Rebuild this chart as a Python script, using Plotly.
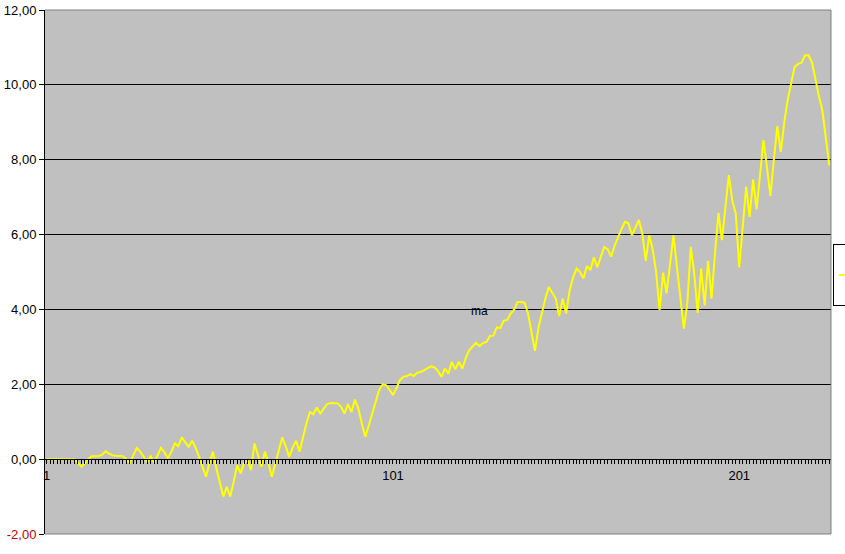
import plotly.graph_objects as go

# valores (227 periodos)
valores = [
    0, 0, 0, 0, 0, 0, 0, 0, 0, -0.1,
    -0.2, -0.12, 0.0, 0.08, 0.08, 0.08, 0.12, 0.21, 0.15, 0.1,
    0.09, 0.09, 0.08, 0.0, -0.1, 0.1, 0.3, 0.2, 0.08, -0.07,
    0.08, -0.09, 0.1, 0.3, 0.18, 0.02, 0.2, 0.42, 0.35, 0.58,
    0.45, 0.33, 0.49, 0.3, 0.06, -0.2, -0.47, -0.1, 0.2, -0.25,
    -0.65, -1.0, -0.74, -1.0, -0.6, -0.16, -0.38, -0.1, -0.03, -0.29,
    0.42, 0.1, -0.2, 0.2, -0.1, -0.47, -0.1, 0.25, 0.58, 0.35,
    0.06, 0.3, 0.49, 0.2, 0.6, 0.95, 1.26, 1.2, 1.38, 1.22,
    1.35, 1.47, 1.5, 1.5, 1.49, 1.4, 1.22, 1.47, 1.26, 1.59,
    1.35, 0.95, 0.6, 0.9, 1.22, 1.6, 1.85, 2.0, 1.98, 1.85,
    1.71, 1.9, 2.11, 2.2, 2.22, 2.27, 2.22, 2.31, 2.33, 2.38,
    2.42, 2.48, 2.45, 2.35, 2.2, 2.42, 2.28, 2.6, 2.4, 2.6,
    2.42, 2.7, 2.91, 3.0, 3.11, 3.02, 3.1, 3.13, 3.29, 3.3,
    3.52, 3.5, 3.7, 3.72, 3.89, 4.0, 4.2, 4.2, 4.18, 3.89,
    3.4, 2.89, 3.5, 3.9, 4.29, 4.6, 4.45, 4.29, 3.82, 4.29,
    3.89, 4.5, 4.85, 5.09, 5.0, 4.83, 5.16, 5.05, 5.39, 5.13,
    5.4, 5.67, 5.61, 5.41, 5.7, 5.94, 6.15, 6.34, 6.30, 5.98,
    6.2, 6.39, 6.03, 5.30, 5.98, 5.6, 5.0, 3.98, 4.98, 4.43,
    5.2, 5.98, 5.14, 4.3, 3.49, 4.16, 5.67, 4.96, 3.91, 5.09,
    4.11, 5.30, 4.29, 5.5, 6.58, 5.85, 6.8, 7.59, 6.9, 6.56,
    5.12, 6.2, 7.28, 6.47, 7.47, 6.67, 7.6, 8.52, 7.8, 7.03,
    8.0, 8.90, 8.21, 9.0, 9.6, 10.02, 10.48, 10.56, 10.59, 10.79,
    10.79, 10.6, 10.13, 9.7, 9.32, 8.5, 7.85,
]
periodos = list(range(1, len(valores) + 1))

x_ticks = [1, 101, 201]
y_ticks = [-2, 0, 2, 4, 6, 8, 10, 12]
y_labels = [
    '<span style="color:#C00000">-2,00</span>', "0,00", "2,00", "4,00",
    "6,00", "8,00", "10,00", "12,00",
]
nombre_serie = "ma"

fig = go.Figure()
fig.add_trace(go.Scatter(
    x=periodos, y=valores, mode="lines", name=nombre_serie,
    line=dict(color="#FFFF00", width=2),
))

fig.update_layout(
    width=845, height=554,
    margin=dict(l=45, r=14, t=10, b=20, autoexpand=False),
    paper_bgcolor="white", plot_bgcolor="#C0C0C0",
    font=dict(family="Liberation Sans, Arial, sans-serif", size=12, color="black"),
    showlegend=True,
    legend=dict(
        x=1.0025, xanchor="left", y=0.494, yanchor="middle",
        bgcolor="white", bordercolor="black", borderwidth=1,
        font=dict(size=36),
    ),
    xaxis=dict(
        range=[0.5, len(valores) + 0.5],
        anchor="free", position=2 / 14,
        tickvals=x_ticks, ticktext=[str(v) for v in x_ticks],
        ticks="outside", ticklen=4, tickcolor="black",
        tickfont=dict(size=13),
        minor=dict(dtick=1, tick0=1, ticks="outside", ticklen=4, tickcolor="black"),
        showline=True, linecolor="black", linewidth=1,
        showgrid=False, zeroline=False,
    ),
    yaxis=dict(
        range=[-2, 12],
        tickvals=y_ticks, ticktext=y_labels,
        ticks="outside", ticklen=5, tickcolor="black",
        tickfont=dict(size=13),
        showline=True, linecolor="black", linewidth=1,
        showgrid=True, gridcolor="black", gridwidth=1,
        zeroline=False,
    ),
)

# borde gris del área de trazado (arriba, derecha, abajo)
for x0, y0, x1, y1 in [(0, 1, 1, 1), (1, 0, 1, 1), (0, 0, 1, 0)]:
    fig.add_shape(type="line", xref="paper", yref="paper",
                  x0=x0, y0=y0, x1=x1, y1=y1,
                  line=dict(color="#808080", width=1))

fig.add_annotation(
    text="ma", xref="paper", yref="paper", x=0.553, y=0.4256,
    showarrow=False, font=dict(size=12, color="black"),
)

# sin margen del <body> para que la figura empiece en la esquina de la ventana
fig.write_html("out.html",
               config={"displayModeBar": False},
               post_script="document.body.style.margin='0';")
